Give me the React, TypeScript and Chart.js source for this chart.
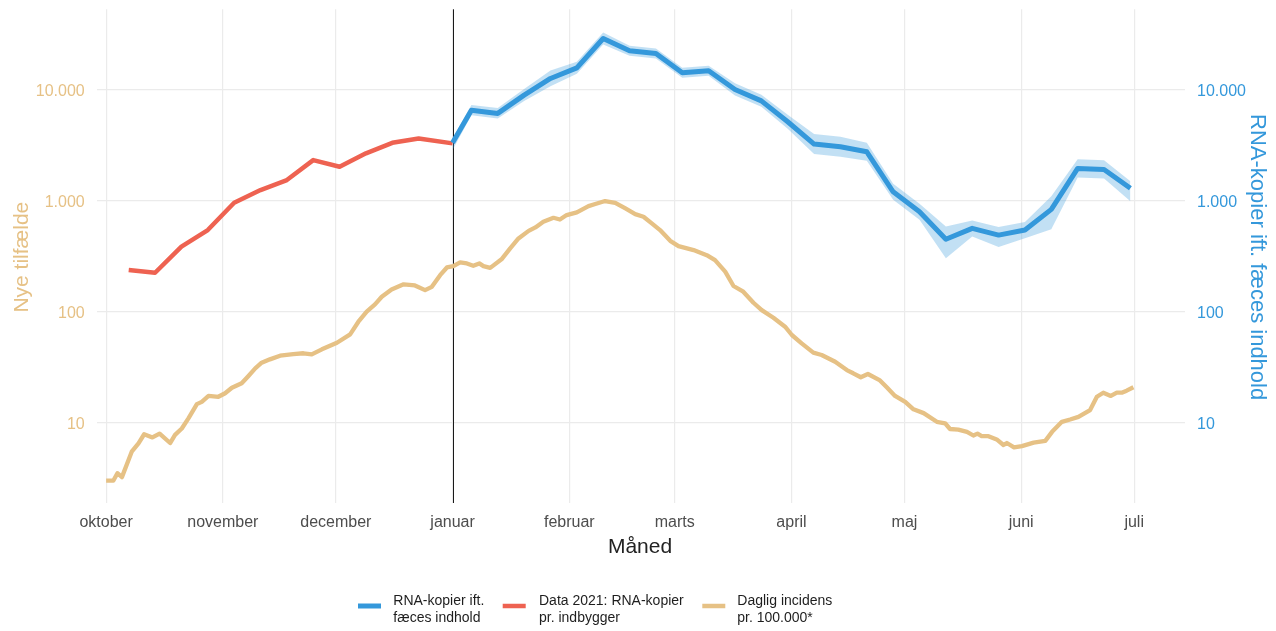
import React, { useEffect, useRef } from "react";
import { Chart, registerables } from "chart.js";

Chart.register(...registerables);

// ---- Data (x = days since 1 October 2020) ----
const monthTickDays = [0, 31, 61, 92, 123, 151, 182, 212, 243, 273];
const monthLabels = ["oktober", "november", "december", "januar", "februar", "marts", "april", "maj", "juni", "juli"];
const yTickValues = [10, 100, 1000, 10000];
const yTickLabels = ["10", "100", "1.000", "10.000"];
const januaryLineDay = 92;

const xTitle = "Måned";
const leftTitle = "Nye tilfælde";
const rightTitle = "RNA-kopier ift. fæces indhold";
const seriesNames = [
  ["RNA-kopier ift.", "fæces indhold"],
  ["Data 2021: RNA-kopier", "pr. indbygger"],
  ["Daglig incidens", "pr. 100.000*"],
];

const incidenceDays = [
  0, 1.9, 3, 4.2, 6.8, 8.6, 10.1, 12.3, 14.2, 17, 18.3, 20.1, 21.9, 24.1, 25.4, 27.2, 29.8, 31.6, 33.4, 36,
  37.8, 39.6, 41.3, 43.5, 46.2, 49.7, 52.4, 54.6, 57.3, 61.3, 64.8, 67, 69.2, 71.4, 73.2, 75.8, 79, 82, 84.7, 86.5,
  88.7, 90.5, 92.2, 94, 95.8, 97.5, 99.1, 100.2, 102, 105, 107.3, 109.5, 112.2, 114, 116.1, 118.8, 120.5, 122.3, 125, 128.1,
  129.9, 132.5, 135.2, 137.9, 140.5, 142.7, 144.9, 147.1, 149.8, 152, 156, 159.5, 161.7, 164.4, 166.6, 169.2, 171.9, 174.1, 177.2, 180.3,
  182.1, 184.7, 187.8, 190, 193.6, 196.7, 198.4, 200.4, 202.3, 205.5, 207.3, 209.5, 212.2, 214.4, 217.1, 220.6, 222.8, 224.1, 226.3, 228.6,
  230.3, 231.4, 232.5, 234.3, 236.5, 238.3, 239.2, 241.1, 243.2, 246.3, 249.4, 251.2, 253.8, 256, 258.2, 261.3, 263.1, 264.8, 266.8, 268.4,
  269.7, 271, 272.8,
];
const incidenceValues = [
  2.97, 2.97, 3.47, 3.2, 5.43, 6.46, 7.8, 7.3, 7.9, 6.5, 7.7, 8.8, 10.9, 14.6, 15.3, 17.3, 17.0, 18.3, 20.5, 22.5,
  26.2, 30.7, 34.5, 37, 39.9, 41.3, 42, 41, 45.6, 52.3, 62.2, 80.9, 100, 116, 136, 158, 176, 172, 156, 167,
  213, 250, 257, 278, 272, 259, 272, 257, 248, 296, 372, 457, 535, 575, 646, 702, 677, 743, 786, 895,
  934, 994, 959, 853, 758, 718, 625, 544, 435, 390, 359, 323, 291, 229, 170, 151, 120, 103, 87.9, 72.9,
  61.4, 51.6, 42.5, 40.5, 35.2, 29.6, 27.7, 25.5, 27.3, 23.9, 20.7, 17.3, 15.3, 13.1, 12.1, 10.1, 9.8, 8.7, 8.6, 8.2,
  7.6, 7.9, 7.5, 7.5, 7.0, 6.24, 6.5, 5.94, 6.1, 6.55, 6.8, 8.2, 10.1, 10.6, 11.2, 12.9, 17.0, 18.5, 17.3, 18.5,
  18.5, 19.3, 20.7,
];

const rna2021Days = [6, 13, 20, 27, 34, 41, 48, 55, 62, 69, 76, 83, 92];
const rna2021Values = [237, 224, 385, 544, 959, 1250, 1539, 2330, 2027, 2680, 3337, 3656, 3296];

const rnaDays = [92, 97, 104, 111, 118, 125, 132, 139, 146, 153, 160, 167, 174, 181, 188, 195, 202, 209, 216, 223, 230, 237, 244, 251, 258, 265, 272];
const rnaValues = [3337, 6577, 6146, 8995, 12714, 15857, 29185, 22575, 21388, 14300, 14907, 10112, 7980, 5168, 3250, 3071, 2768, 1205, 796, 449, 564, 490, 544, 836, 1959, 1919, 1295];
const rnaLower = [2870, 5930, 5520, 7940, 10790, 14000, 25800, 20370, 19280, 12880, 13430, 8930, 7050, 4465, 2640, 2495, 2300, 1021, 675, 302, 477, 382, 460, 552, 1626, 1592, 989];
const rnaUpper = [3630, 7310, 6870, 10190, 15030, 17950, 33110, 25060, 23730, 15850, 16520, 11480, 9060, 5970, 4000, 3790, 3340, 1422, 940, 587, 665, 580, 643, 1096, 2366, 2317, 1497];

// ---- Styles ----
const FONT = "'Liberation Sans', Arial, sans-serif";
const TAN = "#E6C185";
const RED = "#EE6251";
const BLUE = "#3498DB";
const RIBBON = "rgba(52,152,219,0.3)";
const GRID = "#EBEBEB";

const X_MIN = -2.5;
const X_MAX = 286.5;
const Y_MIN = 1.868;
const Y_MAX = 53540;

const pts = (xs: number[], ys: number[]) => xs.map((x, i) => ({ x, y: ys[i] }));

const decorations = {
  id: "decorations",
  beforeDatasetsDraw(chart: any) {
    const { ctx, chartArea, scales } = chart;
    const x = Math.round(scales.x.getPixelForValue(januaryLineDay)) + 0.5;
    ctx.save();
    ctx.strokeStyle = "#1a1a1a";
    ctx.lineWidth = 1;
    ctx.beginPath();
    ctx.moveTo(x, chartArea.top);
    ctx.lineTo(x, chartArea.bottom);
    ctx.stroke();
    ctx.restore();
  },
  afterDraw(chart: any) {
    const { ctx, chartArea } = chart;
    const midY = (chartArea.top + chartArea.bottom) / 2;
    ctx.save();
    ctx.textAlign = "center";
    ctx.textBaseline = "alphabetic";

    ctx.font = `21px ${FONT}`;
    ctx.fillStyle = "#222222";
    ctx.fillText(xTitle, 640, 553);

    ctx.save();
    ctx.translate(27.5, midY + 1);
    ctx.rotate(-Math.PI / 2);
    ctx.fillStyle = TAN;
    ctx.font = `21px ${FONT}`;
    ctx.fillText(leftTitle, 0, 0);
    ctx.restore();

    ctx.save();
    ctx.translate(1251, midY + 1);
    ctx.rotate(Math.PI / 2);
    ctx.fillStyle = BLUE;
    ctx.font = `22px ${FONT}`;
    ctx.fillText(rightTitle, 0, 0);
    ctx.restore();

    // legend
    const keyX = [358, 502.7, 702.3];
    const textX = [393.3, 539, 737.3];
    const colors = [BLUE, RED, TAN];
    const widths = [5, 4.5, 4.5];
    ctx.textAlign = "left";
    ctx.font = `14px ${FONT}`;
    for (let i = 0; i < 3; i++) {
      ctx.strokeStyle = colors[i];
      ctx.lineWidth = widths[i];
      ctx.lineCap = "butt";
      ctx.beginPath();
      ctx.moveTo(keyX[i], 606);
      ctx.lineTo(keyX[i] + 23, 606);
      ctx.stroke();
      ctx.fillStyle = "#1e1e1e";
      ctx.fillText(seriesNames[i][0], textX[i], 604.5);
      ctx.fillText(seriesNames[i][1], textX[i], 622);
    }
    ctx.restore();
  },
};

export default function App() {
  const ref = useRef<HTMLCanvasElement>(null);

  useEffect(() => {
    if (!ref.current) return;
    const yTickCallback = (v: any) => {
      const i = yTickValues.indexOf(Number(v));
      return i >= 0 ? yTickLabels[i] : "";
    };
    const chart = new Chart(ref.current, {
      type: "line",
      data: {
        datasets: [
          {
            label: "ribbon upper",
            data: pts(rnaDays, rnaUpper),
            yAxisID: "y2",
            borderWidth: 0,
            borderColor: "rgba(0,0,0,0)",
            backgroundColor: RIBBON,
            pointRadius: 0,
            fill: "+1",
            tension: 0,
            order: 6,
          },
          {
            label: "ribbon lower",
            data: pts(rnaDays, rnaLower),
            yAxisID: "y2",
            borderWidth: 0,
            borderColor: "rgba(0,0,0,0)",
            backgroundColor: RIBBON,
            pointRadius: 0,
            fill: false,
            tension: 0,
            order: 7,
          },
          {
            label: seriesNames[2].join(" "),
            data: pts(incidenceDays, incidenceValues),
            yAxisID: "y",
            borderColor: TAN,
            borderWidth: 4.3,
            pointRadius: 0,
            fill: false,
            tension: 0,
            borderJoinStyle: "round",
            borderCapStyle: "butt",
            order: 3,
          },
          {
            label: seriesNames[1].join(" "),
            data: pts(rna2021Days, rna2021Values),
            yAxisID: "y2",
            borderColor: RED,
            borderWidth: 4.5,
            pointRadius: 0,
            fill: false,
            tension: 0,
            borderJoinStyle: "round",
            order: 2,
          },
          {
            label: seriesNames[0].join(" "),
            data: pts(rnaDays, rnaValues),
            yAxisID: "y2",
            borderColor: BLUE,
            borderWidth: 5,
            pointRadius: 0,
            fill: false,
            tension: 0,
            borderJoinStyle: "round",
            order: 1,
          },
        ],
      },
      options: {
        responsive: false,
        animation: false,
        devicePixelRatio: 1,
        layout: { padding: { top: 9.3, left: 0, right: 0, bottom: 0 } },
        plugins: {
          legend: { display: false },
          tooltip: { enabled: false },
          title: { display: false },
        },
        scales: {
          x: {
            type: "linear",
            min: X_MIN,
            max: X_MAX,
            afterBuildTicks: (axis: any) => {
              axis.ticks = monthTickDays.map((v) => ({ value: v }));
            },
            afterFit: (axis: any) => {
              axis.height = 128;
              axis.paddingLeft = 0;
              axis.paddingRight = 0;
            },
            ticks: {
              autoSkip: false,
              maxRotation: 0,
              minRotation: 0,
              padding: 10,
              color: "#4D4D4D",
              font: { family: FONT, size: 16 },
              callback: (v: any) => {
                const i = monthTickDays.indexOf(Number(v));
                return i >= 0 ? monthLabels[i] : "";
              },
            },
            grid: { color: GRID, lineWidth: 1.2, drawTicks: false },
            border: { display: false },
          },
          y: {
            type: "logarithmic",
            position: "left",
            min: Y_MIN,
            max: Y_MAX,
            afterBuildTicks: (axis: any) => {
              axis.ticks = yTickValues.map((v) => ({ value: v }));
            },
            afterFit: (axis: any) => {
              axis.width = 96.7;
              axis.paddingTop = 0;
              axis.paddingBottom = 0;
            },
            ticks: {
              autoSkip: false,
              padding: 12,
              labelOffset: 2,
              color: TAN,
              font: { family: FONT, size: 16 },
              callback: yTickCallback,
            },
            grid: { color: GRID, lineWidth: 1.2, drawTicks: false },
            border: { display: false },
          },
          y2: {
            type: "logarithmic",
            position: "right",
            min: Y_MIN,
            max: Y_MAX,
            afterBuildTicks: (axis: any) => {
              axis.ticks = yTickValues.map((v) => ({ value: v }));
            },
            afterFit: (axis: any) => {
              axis.width = 91;
              axis.paddingTop = 0;
              axis.paddingBottom = 0;
            },
            ticks: {
              autoSkip: false,
              padding: 12,
              labelOffset: 2,
              color: BLUE,
              font: { family: FONT, size: 16 },
              callback: yTickCallback,
            },
            grid: { display: false, drawTicks: false },
            border: { display: false },
          },
        },
      },
      plugins: [decorations],
    } as any);
    return () => chart.destroy();
  }, []);

  return (
    <canvas
      ref={ref}
      width={1276}
      height={631}
      style={{ position: "absolute", left: 0, top: 0, width: 1276, height: 631, display: "block", background: "#ffffff" }}
    />
  );
}
